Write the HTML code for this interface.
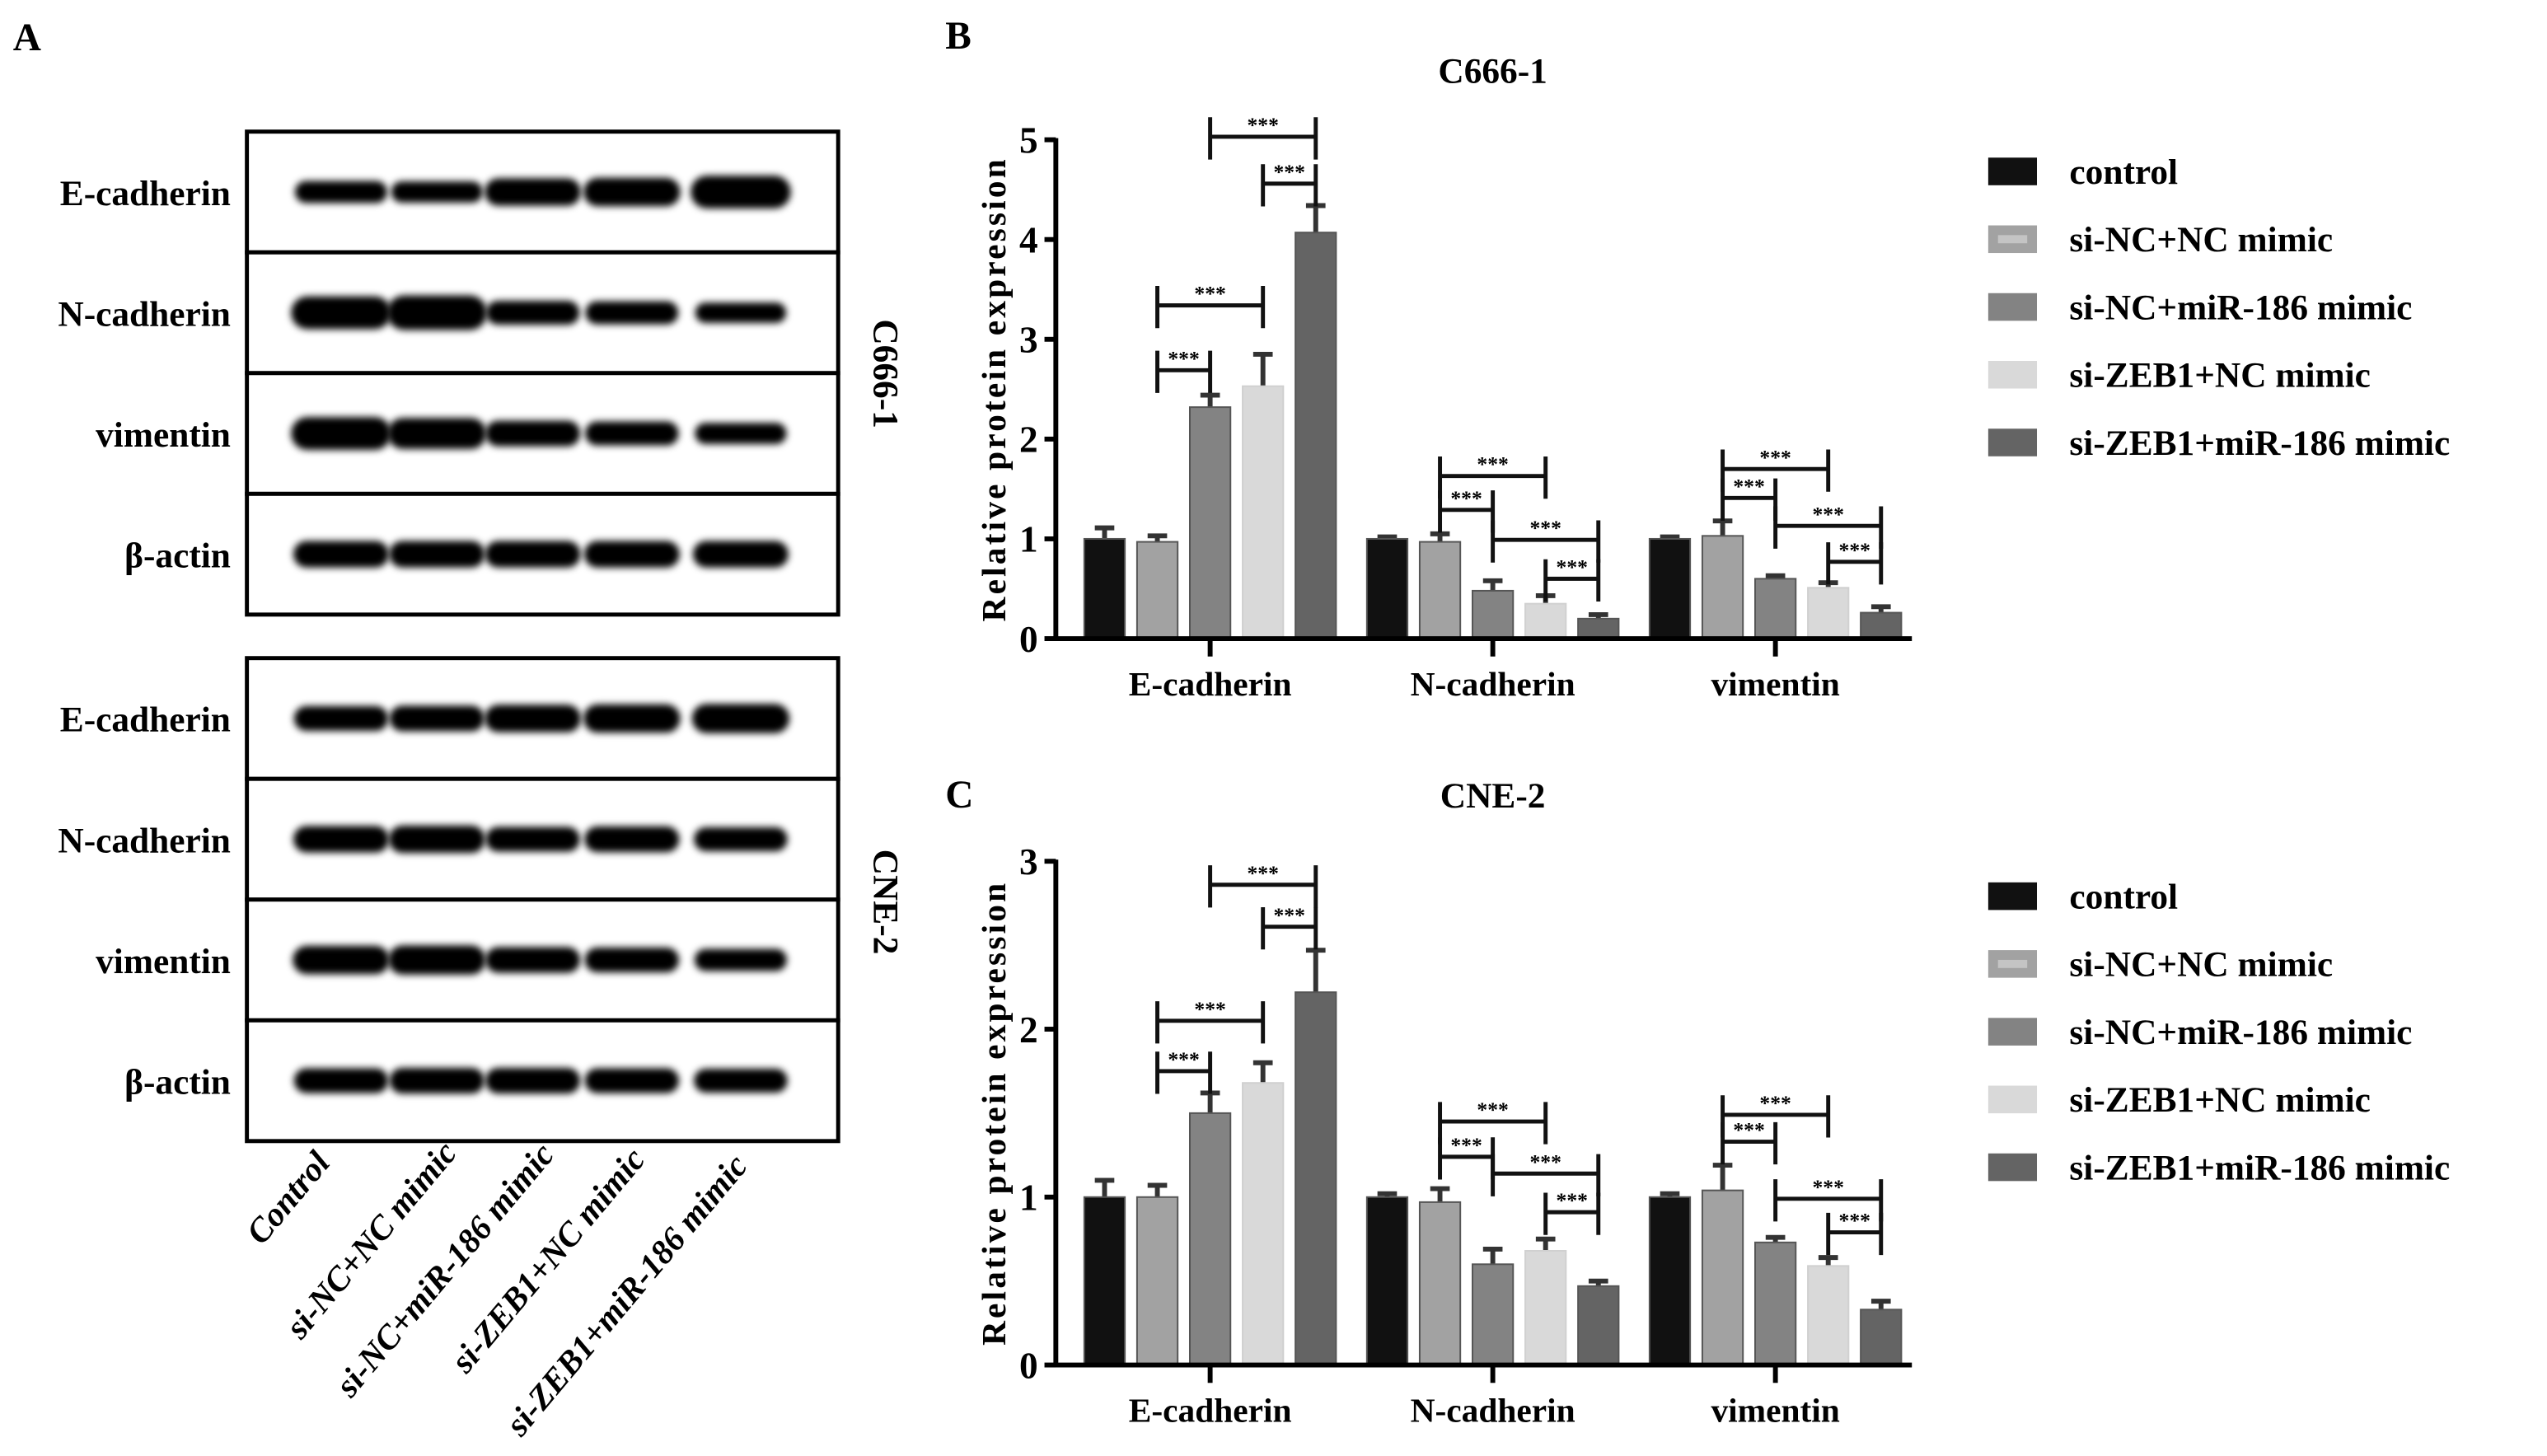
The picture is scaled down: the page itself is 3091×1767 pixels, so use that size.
<!DOCTYPE html>
<html><head><meta charset="utf-8"><style>
html,body{margin:0;padding:0;background:#fff;}
svg{display:block;}
text{font-family:"Liberation Serif",serif;font-weight:bold;}
</style></head><body>
<svg id="fig" width="3091" height="1767" viewBox="0 0 1568 896" preserveAspectRatio="none" xmlns="http://www.w3.org/2000/svg">
<defs>
<filter id="blur" x="-20%" y="-60%" width="140%" height="220%"><feGaussianBlur stdDeviation="2.2"/></filter>
</defs>
<g id="panelA"></g>
<g id="panelB"></g>
<g id="panelC"></g>
</svg>
<script>
// ---------- data ----------
const groups = ["E-cadherin", "N-cadherin", "vimentin"];
const seriesNames = ["control", "si-NC+NC mimic", "si-NC+miR-186 mimic", "si-ZEB1+NC mimic", "si-ZEB1+miR-186 mimic"];
const seriesColors = ["#111111", "#a2a2a2", "#838383", "#d9d9d9", "#646464"];
const laneLabels = ["Control", "si-NC+NC mimic", "si-NC+miR-186 mimic", "si-ZEB1+NC mimic", "si-ZEB1+miR-186 mimic"];
const blotRows = ["E-cadherin", "N-cadherin", "vimentin", "β-actin"];

const c666Values = [[1.0, 0.97, 2.32, 2.53, 4.07], [1.0, 0.97, 0.48, 0.35, 0.2], [1.0, 1.03, 0.6, 0.51, 0.26]];
const c666Errors = [[0.11, 0.06, 0.12, 0.32, 0.27], [0.02, 0.08, 0.1, 0.08, 0.04], [0.02, 0.15, 0.03, 0.05, 0.06]];
const c666Brackets = [[0,1,2,2.69],[0,1,3,3.34],[0,3,4,4.56],[0,2,4,5.03],[1,1,2,1.29],[1,1,3,1.63],[1,2,4,0.99],[1,3,4,0.6],[2,1,2,1.41],[2,1,3,1.7],[2,2,4,1.13],[2,3,4,0.77]];
const c666Ticks = [0, 1, 2, 3, 4, 5];

const cne2Values = [[1.0, 1.0, 1.5, 1.68, 2.22], [1.0, 0.97, 0.6, 0.68, 0.47], [1.0, 1.04, 0.73, 0.59, 0.33]];
const cne2Errors = [[0.1, 0.07, 0.12, 0.12, 0.25], [0.02, 0.08, 0.09, 0.07, 0.03], [0.02, 0.15, 0.03, 0.05, 0.05]];
const cne2Brackets = [[0,1,2,1.75],[0,1,3,2.05],[0,3,4,2.61],[0,2,4,2.86],[1,1,2,1.24],[1,1,3,1.45],[1,2,4,1.14],[1,3,4,0.91],[2,1,2,1.33],[2,1,3,1.49],[2,2,4,0.99],[2,3,4,0.79]];
const cne2Ticks = [0, 1, 2, 3];

const c666Bands = [[0.6, 0.55, 0.9, 0.95, 1.2], [1.2, 1.3, 0.7, 0.65, 0.5], [1.2, 1.1, 0.8, 0.7, 0.55], [0.85, 0.85, 0.85, 0.85, 0.85]];
const cne2Bands = [[0.75, 0.8, 0.9, 0.95, 1.0], [0.85, 0.9, 0.75, 0.8, 0.7], [0.95, 1.0, 0.8, 0.75, 0.6], [0.75, 0.8, 0.8, 0.75, 0.7]];

const NS = "http://www.w3.org/2000/svg";
function mk(tag, attrs, parent, txt) {
  const e = document.createElementNS(NS, tag);
  for (const k in attrs) e.setAttribute(k, attrs[k]);
  if (txt !== undefined) e.textContent = txt;
  parent.appendChild(e);
  return e;
}

// ---------- panel A ----------
const A = document.getElementById('panelA');
let t = mk('text', {x: 8, y: 31, 'font-size': 24}, A, 'A');


const laneX = [210, 269, 328, 389, 456];
function drawBlot(top, bands, cellName, cellY) {
  const rowH = 74.3;
  for (let r = 0; r < 4; r++) {
    const y0 = top + r * rowH;
    const box = mk('rect', {x: 152, y: y0, width: 364, height: rowH, fill: '#fff', stroke: '#000', 'stroke-width': 2.5}, A);
    
    
    const lbl = mk('text', {x: 142, y: y0 + rowH / 2 + 8, 'text-anchor': 'end', 'font-size': 22}, A, blotRows[r]);
    
    
    for (let l = 0; l < 5; l++) {
      const h = 7 + 11 * bands[r][l];
      const w = 52 + 8 * Math.min(bands[r][l], 1.2);
      const b = mk('rect', {x: laneX[l] - w / 2, y: y0 + rowH / 2 - h / 2, width: w, height: h, rx: h / 2, fill: '#000', filter: 'url(#blur)'}, A);
      
      
    }
  }
  const cl = mk('text', {x: 0, y: 0, 'font-size': 22, 'text-anchor': 'middle', transform: `translate(538 ${cellY}) rotate(90)`}, A, cellName);
  
  
}
drawBlot(81, c666Bands, 'C666-1', 230);
drawBlot(405, cne2Bands, 'CNE-2', 555);
const laneEnds = [[204, 716], [282, 710], [342, 711], [398, 714], [461, 718]];
for (let i = 0; i < 5; i++) {
  const lt = mk('text', {x: 0, y: 0, 'font-size': 21, 'font-style': 'italic', 'text-anchor': 'end', transform: `translate(${laneEnds[i][0]} ${laneEnds[i][1]}) rotate(-50)`}, A, laneLabels[i]);
  
  
}

// ---------- bar charts ----------
function drawChart(g, cfg) {
  const {values, errors, brackets, ticks, y0, yTop, ymax, letter, letterY, title, titleY, legendY} = cfg;
  const axX = 650, axEnd = 1177;
  const yScale = v => y0 - (y0 - yTop) * v / ymax;
  const groupCenter = [745, 919, 1093];
  const barStep = 32.5, barW = 25;
  const xBar = (gi, si) => groupCenter[gi] + (si - 2) * barStep;

  let e = mk('text', {x: cfg.letterX, y: letterY, 'font-size': 24}, g, letter);
  
  
  e = mk('text', {x: 919, y: titleY, 'font-size': 22, 'text-anchor': 'middle'}, g, title);
  
  
  e = mk('text', {x: 0, y: 0, 'font-size': 21, 'text-anchor': 'middle', 'letter-spacing': '1.6', transform: `translate(619 ${(y0 + yTop) / 2}) rotate(-90)`}, g, 'Relative protein expression');
  
  

  for (let gi = 0; gi < groups.length; gi++) {
    for (let si = 0; si < 5; si++) {
      const v = values[gi][si], er = errors[gi][si];
      const cx = xBar(gi, si);
      const eb = mk('line', {x1: cx, x2: cx, y1: yScale(v), y2: yScale(v + er), stroke: '#333', 'stroke-width': 3}, g);
      
      
      const cap = mk('line', {x1: cx - 6, x2: cx + 6, y1: yScale(v + er), y2: yScale(v + er), stroke: '#333', 'stroke-width': 3}, g);
      
      
      const b = mk('rect', {x: cx - barW / 2, y: yScale(v), width: barW, height: y0 - yScale(v), fill: seriesColors[si], stroke: si === 3 ? '#d0d0d0' : '#555', 'stroke-width': 1}, g);
      
      
    }
  }
  e = mk('line', {x1: axX, x2: axX, y1: yTop - 1, y2: y0 + 1.5, stroke: '#000', 'stroke-width': 3}, g);
  
  
  e = mk('line', {x1: axX - 1.5, x2: axEnd, y1: y0, y2: y0, stroke: '#000', 'stroke-width': 3}, g);
  
  
  for (const tv of ticks) {
    const y = yScale(tv);
    e = mk('line', {x1: axX - 7, x2: axX, y1: y, y2: y, stroke: '#000', 'stroke-width': 3}, g);
    
    
    e = mk('text', {x: axX - 11, y: y + 8, 'font-size': 23, 'text-anchor': 'end', 'font-weight': 'normal'}, g, String(tv));
    
    
  }
  for (let gi = 0; gi < groups.length; gi++) {
    e = mk('line', {x1: groupCenter[gi], x2: groupCenter[gi], y1: y0, y2: y0 + 11, stroke: '#000', 'stroke-width': 3}, g);
    
    
    e = mk('text', {x: groupCenter[gi], y: y0 + 35, 'font-size': 21, 'text-anchor': 'middle'}, g, groups[gi]);
    
    
  }
  for (const br of brackets) {
    const [gi, a, b, yv] = br;
    const xa = xBar(gi, a), xb = xBar(gi, b), y = yScale(yv);
    e = mk('path', {d: `M${xa} ${y - 12}V${y + 14}M${xb} ${y - 12}V${y + 14}M${xa} ${y}H${xb}`, stroke: '#111', 'stroke-width': 2.5, fill: 'none'}, g);
    
    
    e = mk('text', {x: (xa + xb) / 2, y: y - 3, 'font-size': 13, 'text-anchor': 'middle', 'font-weight': 'normal'}, g, '***');
    
    
  }
  for (let si = 0; si < 5; si++) {
    const y = legendY + si * 41.7;
    e = mk('rect', {x: 1224, y: y - 8, width: 30, height: 17, fill: seriesColors[si]}, g);
    
    
    if (si === 1) { const inner = mk('rect', {x: 1230, y: y - 2, width: 18, height: 5, fill: '#c4c4c4'}, g);   }
    e = mk('text', {x: 1274, y: y + 8, 'font-size': 22}, g, seriesNames[si]);
    
    
  }
}
drawChart(document.getElementById('panelB'), {values: c666Values, errors: c666Errors, brackets: c666Brackets, ticks: c666Ticks, y0: 393, yTop: 86, ymax: 5, letter: 'B', letterX: 582, letterY: 30, title: 'C666-1', titleY: 51, legendY: 105});
drawChart(document.getElementById('panelC'), {values: cne2Values, errors: cne2Errors, brackets: cne2Brackets, ticks: cne2Ticks, y0: 840, yTop: 530, ymax: 3, letter: 'C', letterX: 582, letterY: 497, title: 'CNE-2', titleY: 497, legendY: 551});
</script>
</body></html>
